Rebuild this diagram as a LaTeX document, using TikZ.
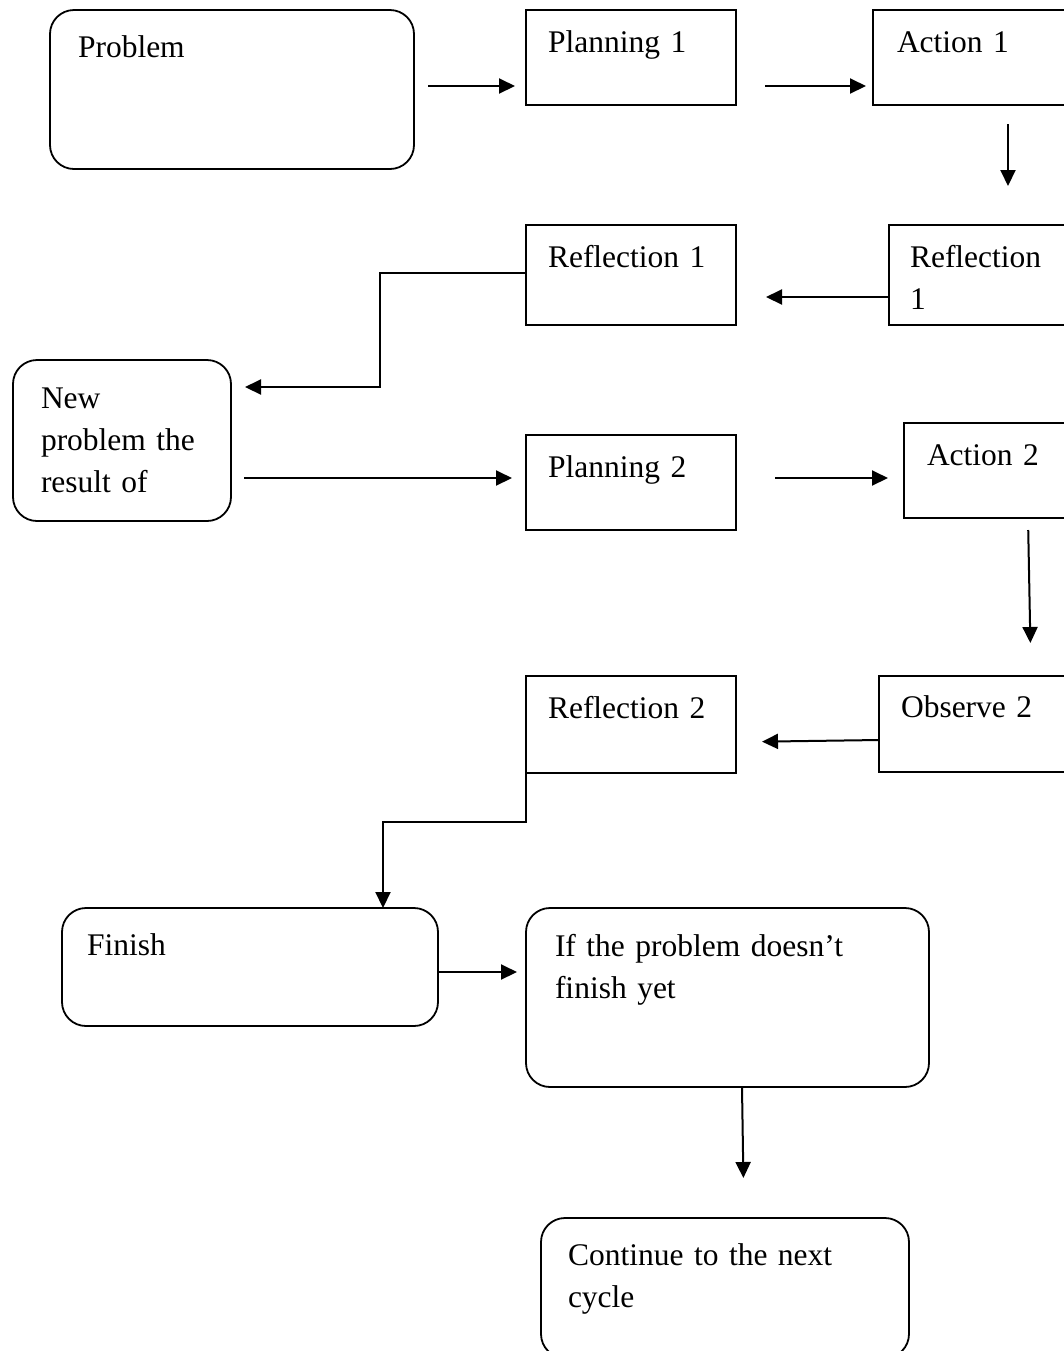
\documentclass[tikz,border=0pt]{standalone}
\usepackage{fontspec}
\setmainfont[WordSpace=0.82]{Liberation Serif}
\usetikzlibrary{arrows.meta}
\begin{document}
\begin{tikzpicture}[x=0.5pt,y=-0.5pt,
  base/.style={draw, line width=0.9pt, anchor=north west, outer sep=0pt,
    inner ysep=0pt, align=left,
    font=\fontsize{15.75pt}{21pt}\selectfont},
  sq/.style={base, rectangle},
  rd/.style={base, rounded corners=12pt},
  geom/.style n args={4}{text width=#1pt, inner xsep=#2pt, text height=#3pt, text depth=#4pt},
  arr/.style={line width=1pt, -{Triangle[length=8pt,width=7.5pt]}}
]
\useasboundingbox (0,0) rectangle (1064,1351);
\clip (0,0) rectangle (1064,1351);
\fill[white] (0,0) rectangle (1064,1351);

% boxes
\node[rd, geom={154}{14}{23.5}{56}]   (problem) at (50,10)   {Problem};
\node[sq, geom={83}{11}{21}{26.5}]    (plan1)   at (526,10)  {Planning 1};
\node[sq, geom={76}{12}{21}{26.5}]    (act1)    at (873,10)  {Action 1};
\node[sq, geom={74}{10.5}{21}{29}]    (refl1r)  at (889,225) {Reflection\\1};
\node[sq, geom={83}{11}{21}{29}]      (refl1l)  at (526,225) {Reflection 1};
\node[rd, geom={81}{14}{24}{56.5}]    (newp)    at (13,360)  {New\\\makebox[80.5pt][s]{problem the}\\result of};
\node[sq, geom={83}{11}{21}{26.5}]    (plan2)   at (526,435) {Planning 2};
\node[sq, geom={62}{11.5}{21}{26.5}]  (act2)    at (904,423) {Action 2};
\node[sq, geom={75.5}{11}{20.5}{27.5}] (obs2)   at (879,676) {Observe 2};
\node[sq, geom={83}{11}{21}{27.5}]    (refl2)   at (526,676) {Reflection 2};
\node[rd, geom={163}{12.5}{23.5}{35.5}] (finish) at (62,908) {Finish};
\node[rd, geom={172.5}{14.5}{24}{65.5}] (ifnot)  at (526,908) {If the problem doesn’t\\finish yet};
\node[rd, geom={157}{13.5}{23.5}{46.5}] (cont)   at (541,1218) {Continue to the next\\cycle};

% connectors
\draw[arr, shorten <=7pt, shorten >=5.5pt] ([yshift=-38pt]problem.north east) -- ([yshift=-38pt]plan1.north west);
\draw[arr, shorten <=14.5pt, shorten >=3.5pt] ([yshift=-38pt]plan1.north east) -- ([yshift=-38pt]act1.north west);
\draw[arr, shorten <=9.5pt, shorten >=19.5pt] ([xshift=67.5pt]act1.south west) -- ([xshift=59.5pt]refl1r.north west);
\draw[arr, shorten >=15pt] ([yshift=-36pt]refl1r.north west) -- ([yshift=-36pt]refl1l.north east);
\draw[arr, shorten >=7pt] ([yshift=-24pt]refl1l.north west) -- ++(-73pt,0) |- ([yshift=-13.5pt]newp.north east);
\draw[arr, shorten <=6.5pt, shorten >=7pt] ([yshift=-59pt]newp.north east) -- ([yshift=-21.5pt]plan2.north west);
\draw[arr, shorten <=19.5pt, shorten >=8pt] ([yshift=-21.5pt]plan2.north east) -- ([yshift=-27.5pt]act2.north west);
\draw[arr, shorten <=6pt, shorten >=16.5pt] ([xshift=62pt]act2.south west) -- ([xshift=76pt]obs2.north west);
\draw[arr, shorten >=13pt] ([yshift=-32pt]obs2.north west) -- ([yshift=-33pt]refl2.north east);
\draw[arr] ([yshift=-29.5pt]refl2.north west) -- ++(0,-43.5pt) -| ([xshift=160.5pt]finish.north west);
\draw[arr, shorten >=4.5pt] ([yshift=-32pt]finish.north east) -- ([yshift=-32pt]ifnot.north west);
\draw[arr, shorten >=20pt] ([xshift=108pt]ifnot.south west) -- ([xshift=101.5pt]cont.north west);
\end{tikzpicture}
\end{document}
